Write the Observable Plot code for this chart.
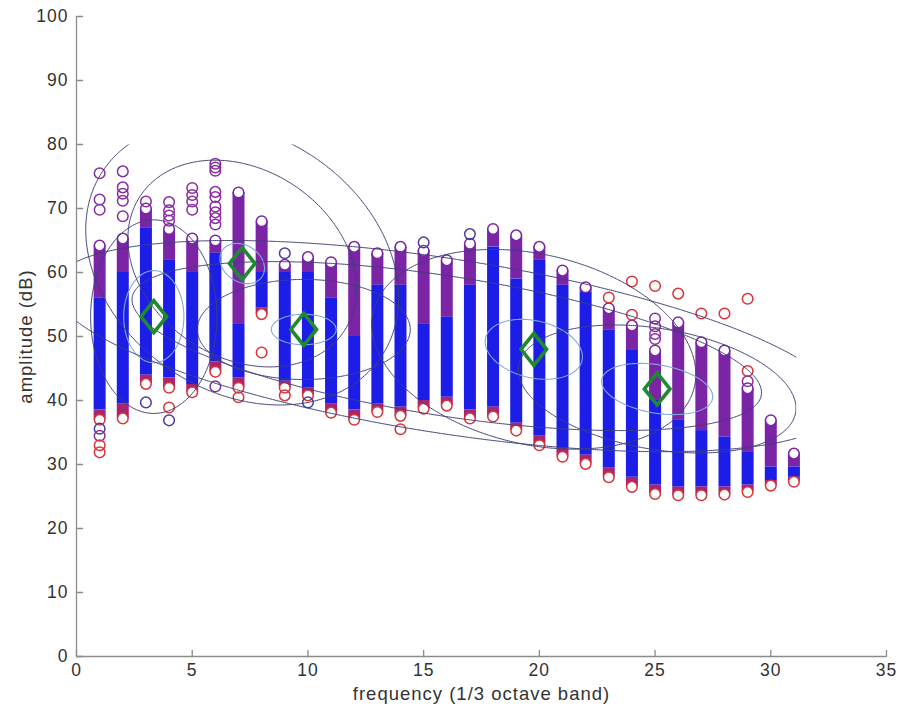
<!DOCTYPE html>
<html>
<head>
<meta charset="utf-8">
<script src="https://cdn.jsdelivr.net/npm/d3@7"></script>
<script src="https://cdn.jsdelivr.net/npm/@observablehq/plot@0.6"></script>
<style>
  html, body { margin: 0; padding: 0; background: #fff; }
</style>
</head>
<body>
<div id="chart"></div>
<script>
// ---- data ----
const freq    = [1,2,3,4,5,6,7,8,9,10,11,12,13,14,15,16,17,18,19,20,21,22,23,24,25,26,27,28,29,30,31];
const colTop  = [64.2,65.3,70.0,66.8,65.3,65.0,72.5,68.0,61.2,62.4,61.6,64.0,63.0,64.0,63.4,61.9,64.5,66.8,65.8,64.0,60.3,57.7,54.4,51.7,47.8,52.2,49.1,47.8,41.9,36.9,31.7];
const blueTop = [56,60,67,62,60,63,52,60,60,60,56,50,58,58,52,53,58,64,59,62,58,57,51,47.8,40,37,35.3,34.3,32,29.6,29.6];
const blueBot = [38.5,39.5,44,43.5,42.5,46,43.5,54.5,43,42,39.5,38.5,39.5,39,40,40.5,38.5,39,36.5,34.5,32.5,31.5,29.5,28,26.8,26.5,26.5,26.5,26.8,27.5,28];
const colBot  = [37.0,37.2,42.6,42.0,41.3,44.5,42.0,53.5,42.0,40.8,38.1,37.0,38.2,37.6,38.7,39.2,37.2,37.5,35.3,33.0,31.2,30.1,28.0,26.5,25.4,25.2,25.2,25.3,25.7,26.7,27.3];

// isolated circles: x, y, group
const outX = [1,1,1,1,1,1,1, 2,2,2,2,2, 3,3, 4,4,4,4,4,4, 5,5,5,5, 6,6,6,6,6,6,6,6,6,6, 7, 8, 9,9, 10, 14, 15, 17, 23, 24,24, 25,25,25,25,25, 26, 27, 28, 29,29,29];
const outY = [75.5,71.4,69.8,35.6,34.5,33.0,31.9, 75.8,73.3,72.3,71.2,68.8, 71.1,39.7, 71.0,69.7,68.9,68.1,38.9,36.9, 73.2,72.1,71.1,69.8, 77.0,76.4,75.9,72.6,71.8,70.3,69.4,68.5,67.5,42.2, 40.5, 47.5, 63.0,40.8, 39.7, 35.5, 64.7, 66.0, 56.1, 58.6,53.4, 57.9,52.8,51.6,50.4,49.6, 56.7, 53.6, 53.6, 55.9,44.6,43.0];
const outG = ["hi","hi","hi","mid","hi","lo","lo", "hi","hi","hi","hi","hi", "hi","mid", "hi","hi","hi","hi","lo","mid", "hi","hi","hi","hi", "hi","hi","hi","hi","hi","hi","hi","hi","hi","hi", "lo", "lo", "mid","lo", "mid", "lo", "mid", "mid", "lo", "lo","lo", "lo","hi","hi","hi","hi", "lo", "lo", "lo", "lo","lo","hi"];

// Gaussian components; the first five are the green diamonds (means)
const compX    = [3.34, 7.16, 9.82, 19.76, 25.09, 16.0];
const compY    = [53.1, 61.4, 51.1, 48.0, 41.8, 48.5];
const compSx   = [1.3, 2.6, 2.0, 3.5, 3.0, 6.8];
const compSy   = [7.2, 8.5, 3.4, 7.8, 5.0, 6.6];
const compRho  = [0, -0.24, 0, -0.25, -0.3, -0.55];
const compMean = [true, true, true, true, true, false];
const compLight = [1.0, 0.37, 0.7, 0.6, 0.8, null];      // inner contour (Mahalanobis radius)
const compDark  = [[2.1], [1.9, 2.6], [2.3], [2.0], [2.0], [2.0, 2.5]];

const xTicks = [0,5,10,15,20,25,30,35];
const yTicks = [0,10,20,30,40,50,60,70,80,90,100];
const contourRegionX = [0, 31.1];
const contourRegionY = [25, 80];

// ---- styling ----
const C = {blue: "#1d1de8", violet: "#7b24a6", low: "#a8246f", red: "#d8343a", axis: "#8c8c8c", green: "#1e8a30",
           dark: "#3d4178", light: "#80aadb"};

const cols = freq.map((f, i) => ({f, top: colTop[i], bt: blueTop[i], bb: blueBot[i], bot: colBot[i]}));
const outs = outX.map((x, i) => ({x, y: outY[i], g: outG[i]}));
const means = compX.map((x, i) => ({x, y: compY[i], m: compMean[i]})).filter(d => d.m);

function mahal(k) {
  const mx = compX[k], my = compY[k], sx = compSx[k], sy = compSy[k], r = compRho[k];
  return (x, y) => {
    const dx = (x - mx) / sx, dy = (y - my) / sy;
    return -Math.sqrt((dx * dx - 2 * r * dx * dy + dy * dy) / (1 - r * r));
  };
}

const contourMarks = [];
compX.forEach((_, k) => {
  const f = mahal(k);
  compDark[k].forEach(t => contourMarks.push(Plot.contour({
    value: f, x1: -8, x2: 43, y1: -15, y2: 115, pixelSize: 2,
    thresholds: [-t], stroke: C.dark, fill: "none", strokeWidth: 1
  })));
  if (compLight[k] != null) contourMarks.push(Plot.contour({
    value: f, x1: -8, x2: 43, y1: -15, y2: 115, pixelSize: 1,
    thresholds: [-compLight[k]], stroke: C.light, fill: "none", strokeWidth: 1.1
  }));
});

const tickLine = {draw(context, l) { context.moveTo(0, 0); context.lineTo(0, -l); }};
const diamond = {draw(context, size) {
  const h = Math.sqrt(size / Math.PI), w = h * 0.8;
  context.moveTo(0, -h); context.lineTo(w, 0); context.lineTo(0, h); context.lineTo(-w, 0); context.closePath();
}};

const chart = Plot.plot({
  width: 900, height: 706,
  marginLeft: 76, marginRight: 14, marginTop: 16, marginBottom: 50,
  style: {fontFamily: "'Liberation Sans', Arial, Helvetica, sans-serif", fontSize: "17.5px", color: "#333", background: "#fff", letterSpacing: "1px"},
  x: {domain: [0, 35]},
  y: {domain: [0, 100]},
  color: {domain: ["hi", "lo", "mid"], range: ["#8a2ca2", C.red, "#4a3c9e"]},
  marks: [
    // column bodies
    Plot.ruleX(cols, {x: "f", y1: "bt", y2: "top", stroke: C.violet, strokeWidth: 12}),
    Plot.ruleX(cols, {x: "f", y1: "bot", y2: "bb", stroke: C.low, strokeWidth: 12}),
    Plot.ruleX(cols, {x: "f", y1: "bb", y2: "bt", stroke: C.blue, strokeWidth: 12}),
    Plot.dot(cols, {x: "f", y: "top", r: 5.3, stroke: C.violet, strokeWidth: 1.5, fill: "white"}),
    Plot.dot(cols, {x: "f", y: "bot", r: 5.3, stroke: C.red, strokeWidth: 1.5, fill: "white"}),
    Plot.dot(outs, {x: "x", y: "y", r: 5.3, stroke: "g", strokeWidth: 1.5, fill: "none"}),
    ...contourMarks,
    Plot.dot(means, {x: "x", y: "y", r: 16, symbol: diamond, stroke: C.green, strokeWidth: 3.6, fill: "none"}),
    // axes
    Plot.ruleX([0], {stroke: C.axis, strokeWidth: 1.3}),
    Plot.ruleY([0], {stroke: C.axis, strokeWidth: 1.3}),
    Plot.vector(xTicks, {x: d => d, frameAnchor: "bottom", length: 6, anchor: "start", rotate: 0, shape: tickLine, stroke: C.axis, strokeWidth: 1.3}),
    Plot.vector(yTicks, {y: d => d, frameAnchor: "left", length: 6, anchor: "start", rotate: 90, shape: tickLine, stroke: C.axis, strokeWidth: 1.3}),
    Plot.axisX({ticks: xTicks, tickSize: 0, tickPadding: 7, label: null}),
    Plot.axisY({ticks: yTicks, tickSize: 0, tickPadding: 8, label: null}),
    Plot.axisX({ticks: [], label: "frequency (1/3 octave band)", labelAnchor: "center", labelArrow: "none", labelOffset: 43, fontSize: 18.5}),
    Plot.axisY({ticks: [], label: "amplitude (dB)", labelAnchor: "center", labelArrow: "none", labelOffset: 58, fontSize: 18.5})
  ]
});

// clip the density contours to the region over which they were evaluated
(function clipContours() {
  const ns = "http://www.w3.org/2000/svg";
  const xs = chart.scale("x"), ys = chart.scale("y");
  const defs = document.createElementNS(ns, "defs");
  const cp = document.createElementNS(ns, "clipPath");
  cp.setAttribute("id", "gmm-clip");
  const rect = document.createElementNS(ns, "rect");
  const x0 = xs.apply(contourRegionX[0]), x1 = xs.apply(contourRegionX[1]);
  const y0 = ys.apply(contourRegionY[1]), y1 = ys.apply(contourRegionY[0]);
  rect.setAttribute("x", x0); rect.setAttribute("y", y0);
  rect.setAttribute("width", x1 - x0); rect.setAttribute("height", y1 - y0);
  cp.appendChild(rect); defs.appendChild(cp);
  chart.insertBefore(defs, chart.firstChild);
  chart.querySelectorAll('g[aria-label="contour"]').forEach(g => g.setAttribute("clip-path", "url(#gmm-clip)"));
})();

document.getElementById("chart").appendChild(chart);
</script>
</body>
</html>
